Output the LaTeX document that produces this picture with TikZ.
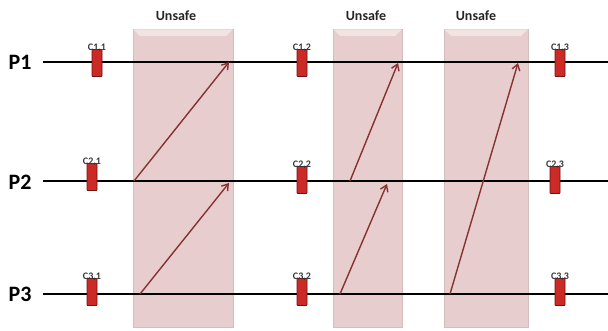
\documentclass[tikz,border=0pt]{standalone}
\usepackage{fontspec}
\setmainfont{Carlito}
\usetikzlibrary{arrows.meta}
\definecolor{bandpink}{RGB}{231,205,205}
\definecolor{bandlight}{RGB}{243,228,228}
\definecolor{ckred}{RGB}{204,42,38}
\definecolor{ckborder}{RGB}{110,20,20}
\definecolor{msgred}{RGB}{135,50,50}
\definecolor{cklabel}{RGB}{55,55,55}
\tikzset{
  band/.style={fill=bandpink, draw=bandpink!92!black, line width=0.3pt},
  bevel/.style={fill=bandlight},
  procline/.style={line width=1.9pt, black},
  proclabel/.style={font=\bfseries\fontsize{22}{22}\selectfont, anchor=center},
  unsafelabel/.style={font=\bfseries\fontsize{14}{14}\selectfont, text=black!85},
  ckpt/.style={draw=ckborder, fill=ckred, line width=0.6pt, minimum width=10pt, minimum height=27pt, inner sep=0pt, rounded corners=0.6pt},
  cklab/.style={font=\bfseries\fontsize{10}{10}\selectfont, text=cklabel, inner sep=0pt, anchor=south},
  msg/.style={draw=msgred, line width=1.4pt, -{Straight Barb[length=6pt,width=8pt]}}
}
\begin{document}
\begin{tikzpicture}[x=1pt,y=-1pt]
\useasboundingbox (0,0) rectangle (608,330);
% unsafe bands
\path[band] (133,29) rectangle (233,327);
\path[band] (333,29) rectangle (402,327);
\path[band] (444,29) rectangle (528,327);
\path[bevel] (133.3,29.3) -- (232.7,29.3) -- (226,36) -- (140,36) -- cycle;
\path[bevel] (333.3,29.3) -- (401.7,29.3) -- (395,36) -- (340,36) -- cycle;
\path[bevel] (444.3,29.3) -- (527.7,29.3) -- (521,36) -- (451,36) -- cycle;
\node[unsafelabel] (u1) at (176,16) {Unsafe};
\node[unsafelabel] (u2) at (366,16) {Unsafe};
\node[unsafelabel] (u3) at (476,16) {Unsafe};
% process labels and lines
\node[proclabel] (p1) at (20,62) {P1};
\node[proclabel] (p2) at (20,182) {P2};
\node[proclabel] (p3) at (20,294) {P3};
\coordinate (l1s) at (43,62);  \coordinate (l1e) at (608,62);
\coordinate (l2s) at (43,181); \coordinate (l2e) at (608,181);
\coordinate (l3s) at (43,294); \coordinate (l3e) at (608,294);
\draw[procline] (l1s) -- (l1e);
\draw[procline] (l2s) -- (l2e);
\draw[procline] (l3s) -- (l3e);
% messages
\coordinate (a1s) at (134,181); \coordinate (a1e) at (229,62);
\coordinate (a2s) at (140,294); \coordinate (a2e) at (229,183);
\coordinate (a3s) at (350,181); \coordinate (a3e) at (398,63);
\coordinate (a4s) at (340,294); \coordinate (a4e) at (387,184);
\coordinate (a5s) at (450,294); \coordinate (a5e) at (518,63);
\draw[msg] (a1s) -- (a1e);
\draw[msg] (a2s) -- (a2e);
\draw[msg] (a3s) -- (a3e);
\draw[msg] (a4s) -- (a4e);
\draw[msg] (a5s) -- (a5e);
% checkpoints
\node[ckpt] (c11) at (97,63) {};
\node[ckpt] (c12) at (302,63) {};
\node[ckpt] (c13) at (560,63) {};
\node[ckpt] (c21) at (92,177) {};
\node[ckpt] (c22) at (302,180) {};
\node[ckpt] (c23) at (555,180) {};
\node[ckpt] (c31) at (92,292) {};
\node[ckpt] (c32) at (302,292) {};
\node[ckpt] (c33) at (560,292) {};
\node[cklab] (t11) at ([yshift=-3pt]c11.north) {C1,1};
\node[cklab] (t12) at ([yshift=-3pt]c12.north) {C1,2};
\node[cklab] (t13) at ([yshift=-3pt]c13.north) {C1,3};
\node[cklab] (t21) at ([yshift=-3pt]c21.north) {C2,1};
\node[cklab] (t22) at ([yshift=-3pt]c22.north) {C2,2};
\node[cklab] (t23) at ([yshift=-3pt]c23.north) {C2,3};
\node[cklab] (t31) at ([yshift=-3pt]c31.north) {C3,1};
\node[cklab] (t32) at ([yshift=-3pt]c32.north) {C3,2};
\node[cklab] (t33) at ([yshift=-3pt]c33.north) {C3,3};
\end{tikzpicture}
\end{document}
